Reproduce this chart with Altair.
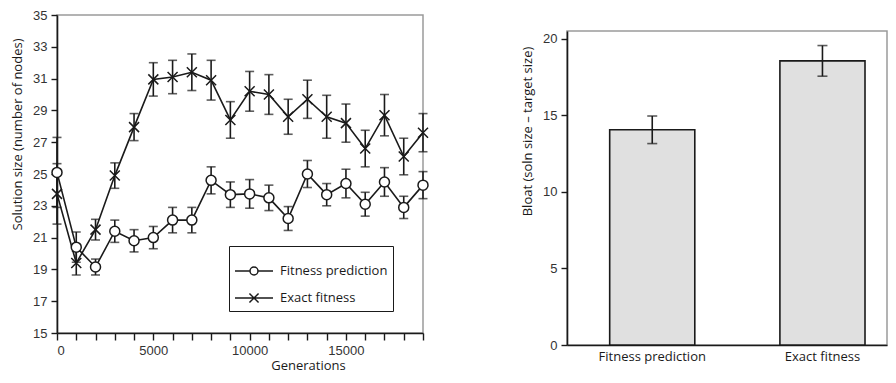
import altair as alt
import pandas as pd

# ---- data ----
generations = list(range(0, 20000, 1000))
pred_mean = [25.1, 20.4, 19.15, 21.4, 20.8, 21.0, 22.1, 22.1, 24.6, 23.7,
             23.75, 23.5, 22.2, 25.0, 23.7, 24.4, 23.1, 24.5, 22.9, 24.3]
pred_err = [2.2, 0.95, 0.5, 0.7, 0.7, 0.7, 0.8, 0.8, 0.85, 0.8,
            0.9, 0.8, 0.75, 0.85, 0.7, 0.9, 0.75, 0.9, 0.7, 0.85]
exact_mean = [23.75, 19.4, 21.5, 24.9, 27.95, 30.95, 31.1, 31.4, 30.9, 28.4,
              30.2, 30.0, 28.6, 29.7, 28.6, 28.2, 26.6, 28.7, 26.1, 27.6]
exact_err = [1.9, 0.75, 0.65, 0.8, 0.85, 1.05, 1.05, 1.15, 1.25, 1.15,
             1.25, 1.25, 1.1, 1.2, 1.35, 1.2, 1.15, 1.3, 1.15, 1.2]

series_names = ["Fitness prediction", "Exact fitness"]

bar_methods = ["Fitness prediction", "Exact fitness"]
bar_bloat = [14.05, 18.55]
bar_err = [0.9, 1.0]

x_tick_values = list(range(0, 19001, 1000))
y_tick_values = list(range(15, 36, 2))
bar_tick_values = [0, 5, 10, 15, 20]

# ---- tables ----
rows = []
for s, means, errs in [(series_names[0], pred_mean, pred_err),
                       (series_names[1], exact_mean, exact_err)]:
    for g, m, e in zip(generations, means, errs):
        rows.append({"series": s, "gen": g, "val": m, "lo": m - e, "hi": m + e})
df = pd.DataFrame(rows)

bars = pd.DataFrame({"method": bar_methods, "bloat": bar_bloat,
                     "lo": [b - e for b, e in zip(bar_bloat, bar_err)],
                     "hi": [b + e for b, e in zip(bar_bloat, bar_err)]})

INK = "#1a1a1a"
TXT = "Open Sans"
NUM = "Liberation Sans"

x_enc = alt.X("gen:Q", scale=alt.Scale(domain=[0, 19000], nice=False, zero=False),
              axis=alt.Axis(values=x_tick_values, tickCount=100, format="d",
                            labelOverlap=False,
                            labelExpr="datum.value % 5000 == 0 ? datum.label : ''",
                            tickSize=7, labelPadding=4,
                            title="Generations", titleX=251, titleAlign="center",
                            titlePadding=2, titleFontWeight="normal", grid=False))
y_scale = alt.Scale(domain=[15, 35], nice=False, zero=False)
y_axis = alt.Axis(values=y_tick_values, tickCount=100, format="d",
                  title="Solution size (number of nodes)",
                  titleY=119, titleAlign="center",
                  labelOverlap=False, titleFontWeight="normal", grid=False)

base = alt.Chart(df)

lines = base.mark_line(color=INK, strokeWidth=1.6).encode(
    x=x_enc, y=alt.Y("val:Q", scale=y_scale, axis=y_axis), detail="series:N")

err_rules = base.mark_rule(color=INK, strokeWidth=1.6).encode(
    x="gen:Q", y="lo:Q", y2="hi:Q")
cap_lo = base.mark_tick(color=INK, orient="horizontal", size=9, thickness=1.6).encode(
    x="gen:Q", y="lo:Q")
cap_hi = base.mark_tick(color=INK, orient="horizontal", size=9, thickness=1.6).encode(
    x="gen:Q", y="hi:Q")

marker_shapes = ["circle", "M-1,-1L1,1M-1,1L1,-1"]
points = base.mark_point(filled=True, fill="white", stroke=INK, strokeWidth=1.5,
                         size=100, opacity=1).encode(
    x="gen:Q", y="val:Q",
    shape=alt.Shape("series:N", scale=alt.Scale(domain=series_names, range=marker_shapes),
                    legend=None))

legend_shapes = [
    "M-1,0L-0.21,0M0.21,0L1,0M-0.21,0A0.21,0.21,0,1,0,0.21,0A0.21,0.21,0,1,0,-0.21,0",
    "M-1,0L1,0M-0.24,-0.24L0.24,0.24M-0.24,0.24L0.24,-0.24",
]
legend_layer = base.transform_filter("false").mark_point(
    filled=False, stroke=INK, strokeWidth=1.5, opacity=1).encode(
    x="gen:Q", y="val:Q",
    shape=alt.Shape("series:N",
                    scale=alt.Scale(domain=series_names, range=legend_shapes),
                    legend=alt.Legend(title=None, orient="none", legendX=172, legendY=231,
                                      symbolSize=1444, symbolStrokeColor=INK,
                                      symbolFillColor="white", symbolStrokeWidth=1.5,
                                      labelFont=TXT, labelFontSize=13, labelColor=INK,
                                      labelOffset=6, rowPadding=-2, padding=5,
                                      strokeColor=INK, fillColor="white")))

left = alt.layer(lines, err_rules, cap_lo, cap_hi, points, legend_layer).resolve_scale(
    shape="independent").resolve_legend(shape="independent").properties(
    width=366, height=318)

# ---- right: bars ----
bbase = alt.Chart(bars)
bx = alt.X("method:N", sort=bar_methods,
           scale=alt.Scale(paddingInner=0.5, paddingOuter=0.19, align=0.66),
           axis=alt.Axis(title=None, labelAngle=0, ticks=False, labelFont=TXT,
                         labelFontSize=13, labelColor=INK, labelPadding=5))
by_scale = alt.Scale(domain=[0, 20.5], nice=False)
bar_marks = bbase.mark_bar(fill="#e0e0e0", stroke=INK, strokeWidth=1.6).encode(
    x=bx, y=alt.Y("bloat:Q", scale=by_scale,
                  axis=alt.Axis(values=bar_tick_values, tickCount=100, format="d",
                                grid=False, labelOverlap=False,
                                title="Bloat (soln size \u2013 target size)",
                                titleY=100, titleAlign="center",
                                titleFontWeight="normal")))
b_rule = bbase.mark_rule(color=INK, strokeWidth=1.6).encode(
    x=alt.X("method:N", sort=bar_methods), y="lo:Q", y2="hi:Q")
b_cap_lo = bbase.mark_tick(color=INK, orient="horizontal", size=10, thickness=1.6).encode(
    x=alt.X("method:N", sort=bar_methods), y="lo:Q")
b_cap_hi = bbase.mark_tick(color=INK, orient="horizontal", size=10, thickness=1.6).encode(
    x=alt.X("method:N", sort=bar_methods), y="hi:Q")

bar_chart = alt.layer(bar_marks, b_rule, b_cap_lo, b_cap_hi).properties(
    width=320, height=314)

spacer = bbase.mark_point(opacity=0, size=4).encode(
    x=alt.value(20), y=alt.value(7)).properties(
    width=320, height=14, view=alt.ViewBackground(stroke="transparent"))

right = alt.vconcat(spacer, bar_chart, spacing=0)

chart = alt.hconcat(left, right, spacing=88).properties(
    padding={"left": 2, "top": 0, "right": 0, "bottom": 0}).configure_view(
    stroke="#9a9a9a", strokeWidth=1.5).configure_axis(
    domainColor=INK, domainWidth=1.6, tickColor=INK, tickWidth=1.4, tickSize=6,
    labelFont=NUM, labelFontSize=13, labelColor="#333333", labelPadding=4,
    labelOverlap=False,
    titleFont=TXT, titleFontSize=13, titleColor=INK, titlePadding=8)

chart.save("out.html", embed_options={"renderer": "svg", "actions": False})
